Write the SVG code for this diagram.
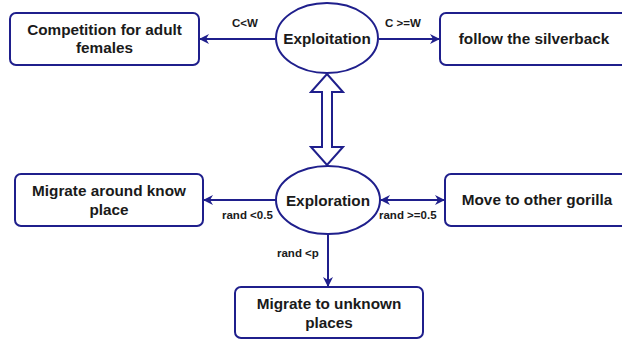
<svg xmlns="http://www.w3.org/2000/svg" width="622" height="340" viewBox="0 0 622 340">
<defs>
<style>
.box{fill:#fff;stroke:#1f1f8c;stroke-width:2}
.t{font-family:"Liberation Sans",Arial,sans-serif;font-weight:bold;font-size:15.3px;fill:#1a1a1a;text-anchor:middle}
.l{font-family:"Liberation Sans",Arial,sans-serif;font-weight:bold;font-size:11.5px;fill:#1a1a1a}
.c{stroke:#1f1f8c;stroke-width:2;fill:none}
</style>
<marker id="ah" viewBox="0 0 10 10" refX="9" refY="5" markerWidth="5" markerHeight="5" orient="auto-start-reverse">
<path d="M0,0 L10,5 L0,10 L3,5 Z" fill="#1f1f8c"/>
</marker>
</defs>
<rect width="622" height="340" fill="#fff"/>
<g id="connectors">
<line class="c" x1="276" y1="39" x2="200" y2="39" marker-end="url(#ah)"/>
<text class="l" x="232" y="27">C&lt;W</text>
<line class="c" x1="379" y1="39" x2="439" y2="39" marker-end="url(#ah)"/>
<text class="l" x="385" y="27">C &gt;=W</text>
<path d="M327,74 L343,92 L332,92 L332,147 L343,147 L327,165 L311,147 L322,147 L322,92 L311,92 Z" fill="#fff" stroke="#1f1f8c" stroke-width="2" stroke-linejoin="miter"/>
<line class="c" x1="276" y1="200" x2="204" y2="200" marker-end="url(#ah)"/>
<text class="l" x="222" y="219">rand &lt;0.5</text>
<line class="c" x1="381" y1="200" x2="444" y2="200" marker-start="url(#ah)" marker-end="url(#ah)"/>
<text class="l" x="379" y="219">rand &gt;=0.5</text>
<line class="c" x1="328" y1="234" x2="328" y2="286" marker-end="url(#ah)"/>
<text class="l" x="277" y="257">rand &lt;p</text>
</g>
<g id="competition">
<rect class="box" x="10" y="13" width="189" height="52" rx="6"/>
<text class="t" x="104.5" y="35">Competition for adult</text>
<text class="t" x="104.5" y="53">females</text>
</g>
<g id="exploitation">
<ellipse class="box" cx="327" cy="38" rx="51" ry="35"/>
<text class="t" x="327" y="44">Exploitation</text>
</g>
<g id="silverback">
<rect class="box" x="440" y="13" width="190" height="52" rx="6"/>
<text class="t" x="534" y="44">follow the silverback</text>
</g>
<g id="exploration">
<ellipse class="box" cx="328" cy="200" rx="52" ry="34"/>
<text class="t" x="328" y="206">Exploration</text>
</g>
<g id="migrate-known">
<rect class="box" x="15" y="174" width="188" height="52" rx="6"/>
<text class="t" x="109" y="196">Migrate around know</text>
<text class="t" x="109" y="215">place</text>
</g>
<g id="move-gorilla">
<rect class="box" x="445" y="174" width="185" height="52" rx="6"/>
<text class="t" x="537" y="205">Move to other gorilla</text>
</g>
<g id="migrate-unknown">
<rect class="box" x="235" y="287" width="188" height="51" rx="6"/>
<text class="t" x="329" y="309">Migrate to unknown</text>
<text class="t" x="329" y="328">places</text>
</g>
</svg>
